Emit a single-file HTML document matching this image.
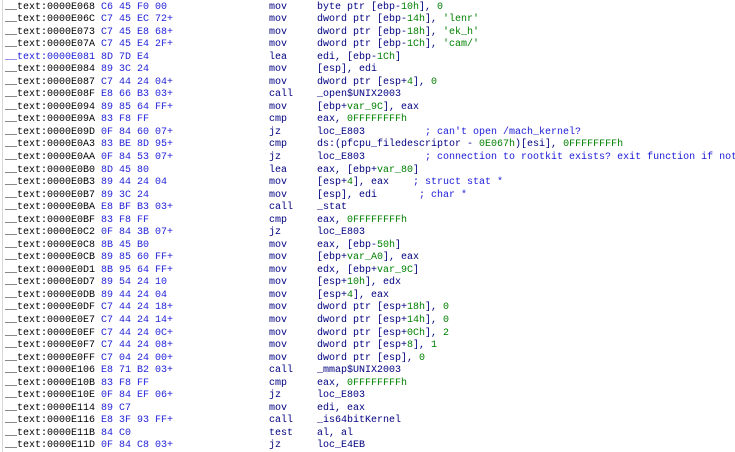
<!DOCTYPE html>
<html><head><meta charset="utf-8"><style>
html,body{margin:0;padding:0;background:#fff;width:735px;height:452px;overflow:hidden;position:relative}
.bar{position:absolute;left:2px;top:0;width:1px;height:452px;background:#d8d8d8}
.l{position:absolute;left:0;height:13px;line-height:13px;font-family:"Liberation Mono",monospace;font-size:10px;white-space:pre;width:735px}
.l span{position:absolute}
.a{left:5px;color:#000}
.b{left:101px;color:#2323d8}
.m{left:269px;color:#000080}
.o{left:317px;color:#000080}
.g{color:#008000}
.c{color:#1a1ad8}
.ab{color:#1a1ad8}
</style></head><body>
<div class="bar"></div>
<div class="l" style="top:0.5px"><span class="a">__text:0000E068</span><span class="b">C6 45 F0 00</span><span class="m">mov</span><span class="o">byte ptr [ebp-<i class="g" style="font-style:normal">10h</i>], <i class="g" style="font-style:normal">0</i></span></div>
<div class="l" style="top:13.04px"><span class="a">__text:0000E06C</span><span class="b">C7 45 EC 72+</span><span class="m">mov</span><span class="o">dword ptr [ebp-<b class="g" style="font-weight:normal">14h</b>], <b class="g" style="font-weight:normal">'lenr'</b></span></div>
<div class="l" style="top:25.58px"><span class="a">__text:0000E073</span><span class="b">C7 45 E8 68+</span><span class="m">mov</span><span class="o">dword ptr [ebp-<b class="g" style="font-weight:normal">18h</b>], <b class="g" style="font-weight:normal">'ek_h'</b></span></div>
<div class="l" style="top:38.12px"><span class="a">__text:0000E07A</span><span class="b">C7 45 E4 2F+</span><span class="m">mov</span><span class="o">dword ptr [ebp-<b class="g" style="font-weight:normal">1Ch</b>], <b class="g" style="font-weight:normal">'cam/'</b></span></div>
<div class="l" style="top:50.66px"><span class="a ab">__text:0000E081</span><span class="b">8D 7D E4</span><span class="m">lea</span><span class="o">edi, [ebp-<b class="g" style="font-weight:normal">1Ch</b>]</span></div>
<div class="l" style="top:63.2px"><span class="a">__text:0000E084</span><span class="b">89 3C 24</span><span class="m">mov</span><span class="o">[esp], edi</span></div>
<div class="l" style="top:75.74px"><span class="a">__text:0000E087</span><span class="b">C7 44 24 04+</span><span class="m">mov</span><span class="o">dword ptr [esp+<b class="g" style="font-weight:normal">4</b>], <b class="g" style="font-weight:normal">0</b></span></div>
<div class="l" style="top:88.28px"><span class="a">__text:0000E08F</span><span class="b">E8 66 B3 03+</span><span class="m">call</span><span class="o">_open$UNIX2003</span></div>
<div class="l" style="top:100.82px"><span class="a">__text:0000E094</span><span class="b">89 85 64 FF+</span><span class="m">mov</span><span class="o">[ebp+<b class="g" style="font-weight:normal">var_9C</b>], eax</span></div>
<div class="l" style="top:113.36px"><span class="a">__text:0000E09A</span><span class="b">83 F8 FF</span><span class="m">cmp</span><span class="o">eax, <b class="g" style="font-weight:normal">0FFFFFFFFh</b></span></div>
<div class="l" style="top:125.9px"><span class="a">__text:0000E09D</span><span class="b">0F 84 60 07+</span><span class="m">jz</span><span class="o">loc_E803          <b class="c" style="font-weight:normal">; can't open /mach_kernel?</b></span></div>
<div class="l" style="top:138.44px"><span class="a">__text:0000E0A3</span><span class="b">83 BE 8D 95+</span><span class="m">cmp</span><span class="o">ds:(pfcpu_filedescriptor - <b class="g" style="font-weight:normal">0E067h</b>)[esi], <b class="g" style="font-weight:normal">0FFFFFFFFh</b></span></div>
<div class="l" style="top:150.98px"><span class="a">__text:0000E0AA</span><span class="b">0F 84 53 07+</span><span class="m">jz</span><span class="o">loc_E803          <b class="c" style="font-weight:normal">; connection to rootkit exists? exit function if not</b></span></div>
<div class="l" style="top:163.52px"><span class="a">__text:0000E0B0</span><span class="b">8D 45 80</span><span class="m">lea</span><span class="o">eax, [ebp+<b class="g" style="font-weight:normal">var_80</b>]</span></div>
<div class="l" style="top:176.06px"><span class="a">__text:0000E0B3</span><span class="b">89 44 24 04</span><span class="m">mov</span><span class="o">[esp+<b class="g" style="font-weight:normal">4</b>], eax    <b class="c" style="font-weight:normal">; struct stat *</b></span></div>
<div class="l" style="top:188.6px"><span class="a">__text:0000E0B7</span><span class="b">89 3C 24</span><span class="m">mov</span><span class="o">[esp], edi       <b class="c" style="font-weight:normal">; char *</b></span></div>
<div class="l" style="top:201.14px"><span class="a">__text:0000E0BA</span><span class="b">E8 BF B3 03+</span><span class="m">call</span><span class="o">_stat</span></div>
<div class="l" style="top:213.68px"><span class="a">__text:0000E0BF</span><span class="b">83 F8 FF</span><span class="m">cmp</span><span class="o">eax, <b class="g" style="font-weight:normal">0FFFFFFFFh</b></span></div>
<div class="l" style="top:226.22px"><span class="a">__text:0000E0C2</span><span class="b">0F 84 3B 07+</span><span class="m">jz</span><span class="o">loc_E803</span></div>
<div class="l" style="top:238.76px"><span class="a">__text:0000E0C8</span><span class="b">8B 45 B0</span><span class="m">mov</span><span class="o">eax, [ebp-<b class="g" style="font-weight:normal">50h</b>]</span></div>
<div class="l" style="top:251.3px"><span class="a">__text:0000E0CB</span><span class="b">89 85 60 FF+</span><span class="m">mov</span><span class="o">[ebp+<b class="g" style="font-weight:normal">var_A0</b>], eax</span></div>
<div class="l" style="top:263.84px"><span class="a">__text:0000E0D1</span><span class="b">8B 95 64 FF+</span><span class="m">mov</span><span class="o">edx, [ebp+<b class="g" style="font-weight:normal">var_9C</b>]</span></div>
<div class="l" style="top:276.38px"><span class="a">__text:0000E0D7</span><span class="b">89 54 24 10</span><span class="m">mov</span><span class="o">[esp+<b class="g" style="font-weight:normal">10h</b>], edx</span></div>
<div class="l" style="top:288.92px"><span class="a">__text:0000E0DB</span><span class="b">89 44 24 04</span><span class="m">mov</span><span class="o">[esp+<b class="g" style="font-weight:normal">4</b>], eax</span></div>
<div class="l" style="top:301.46px"><span class="a">__text:0000E0DF</span><span class="b">C7 44 24 18+</span><span class="m">mov</span><span class="o">dword ptr [esp+<b class="g" style="font-weight:normal">18h</b>], <b class="g" style="font-weight:normal">0</b></span></div>
<div class="l" style="top:314px"><span class="a">__text:0000E0E7</span><span class="b">C7 44 24 14+</span><span class="m">mov</span><span class="o">dword ptr [esp+<b class="g" style="font-weight:normal">14h</b>], <b class="g" style="font-weight:normal">0</b></span></div>
<div class="l" style="top:326.54px"><span class="a">__text:0000E0EF</span><span class="b">C7 44 24 0C+</span><span class="m">mov</span><span class="o">dword ptr [esp+<b class="g" style="font-weight:normal">0Ch</b>], <b class="g" style="font-weight:normal">2</b></span></div>
<div class="l" style="top:339.08px"><span class="a">__text:0000E0F7</span><span class="b">C7 44 24 08+</span><span class="m">mov</span><span class="o">dword ptr [esp+<b class="g" style="font-weight:normal">8</b>], <b class="g" style="font-weight:normal">1</b></span></div>
<div class="l" style="top:351.62px"><span class="a">__text:0000E0FF</span><span class="b">C7 04 24 00+</span><span class="m">mov</span><span class="o">dword ptr [esp], <b class="g" style="font-weight:normal">0</b></span></div>
<div class="l" style="top:364.16px"><span class="a">__text:0000E106</span><span class="b">E8 71 B2 03+</span><span class="m">call</span><span class="o">_mmap$UNIX2003</span></div>
<div class="l" style="top:376.7px"><span class="a">__text:0000E10B</span><span class="b">83 F8 FF</span><span class="m">cmp</span><span class="o">eax, <b class="g" style="font-weight:normal">0FFFFFFFFh</b></span></div>
<div class="l" style="top:389.24px"><span class="a">__text:0000E10E</span><span class="b">0F 84 EF 06+</span><span class="m">jz</span><span class="o">loc_E803</span></div>
<div class="l" style="top:401.78px"><span class="a">__text:0000E114</span><span class="b">89 C7</span><span class="m">mov</span><span class="o">edi, eax</span></div>
<div class="l" style="top:414.32px"><span class="a">__text:0000E116</span><span class="b">E8 3F 93 FF+</span><span class="m">call</span><span class="o">_is64bitKernel</span></div>
<div class="l" style="top:426.86px"><span class="a">__text:0000E11B</span><span class="b">84 C0</span><span class="m">test</span><span class="o">al, al</span></div>
<div class="l" style="top:439.4px"><span class="a">__text:0000E11D</span><span class="b">0F 84 C8 03+</span><span class="m">jz</span><span class="o">loc_E4EB</span></div>
</body></html>
